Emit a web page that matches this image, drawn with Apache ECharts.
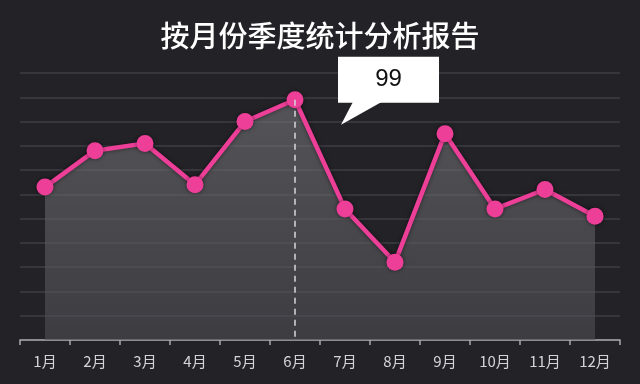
<!DOCTYPE html>
<html><head><meta charset="utf-8">
<script src="https://cdn.jsdelivr.net/npm/echarts@6/dist/echarts.min.js"></script>
<style>html,body{margin:0;padding:0;background:#232227;}#c{width:640px;height:384px;}</style>
</head><body><div id="c"></div>
<script>
var titleText = '按月份季度统计分析报告';
var categories = ['1月','2月','3月','4月','5月','6月','7月','8月','9月','10月','11月','12月'];
var values = [63, 78, 81, 64, 90, 99, 54, 32, 85, 54, 62, 51];
var highlightIndex = 5;

var chart = echarts.init(document.getElementById('c'), null, {renderer:'canvas'});
var option = {
  backgroundColor: '#232227',
  animation: false,
  title: {
    text: titleText, left: 'center', top: 16,
    textStyle: {color:'#ffffff', fontSize: 29, fontWeight: 500, fontFamily: 'Noto Sans CJK SC'}
  },
  grid: {left: 20, right: 20, top: 73, bottom: 44},
  xAxis: {
    type: 'category', data: categories, boundaryGap: true,
    axisLine: {lineStyle: {color: '#a9a9ad', width: 1.5}},
    axisTick: {show: true, length: 5, inside: false, lineStyle: {color: '#a9a9ad', width: 1.5}},
    axisLabel: {color: '#d4d4d8', fontSize: 15, margin: 14, fontFamily: 'Noto Sans CJK SC'},
    splitLine: {show: false}
  },
  yAxis: {
    type: 'value', min: 0, max: 110, interval: 10,
    axisLabel: {show: false}, axisLine: {show: false}, axisTick: {show: false},
    splitLine: {lineStyle: {color: '#3f3e45', width: 1.5}}
  },
  series: [{
    type: 'line', data: values, symbol: 'circle', symbolSize: 17,
    lineStyle: {color: '#ee3f98', width: 4.5, shadowColor: 'rgba(0,0,0,0.5)', shadowBlur: 4},
    itemStyle: {color: '#ee3f98', shadowColor: 'rgba(0,0,0,0.5)', shadowBlur: 4},
    areaStyle: {
      color: new echarts.graphic.LinearGradient(0,0,0,1,[
        {offset:0, color:'rgba(118,118,122,0.85)'},
        {offset:1, color:'rgba(78,78,84,0.85)'}
      ])
    },
    markLine: {
      silent: true, symbol: 'none', label: {show:false},
      lineStyle: {color: '#d8d8dc', type: [6,5], width: 1.5},
      data: [[{coord: [categories[highlightIndex], values[highlightIndex]]}, {coord: [categories[highlightIndex], 0]}]]
    },
    z: 3
  }]
};
chart.setOption(option);

var p = chart.convertToPixel({seriesIndex:0}, [highlightIndex, values[highlightIndex]]);
var bx = p[0] + 43, by = p[1] - 43, bw = 101, bh = 46;
chart.setOption({
  graphic: [{
    type: 'group', z: 100,
    children: [
      {type: 'polygon', shape: {points: [[bx+15, by+bh-1], [bx+44, by+bh-1], [bx+3, by+bh+22]]}, style: {fill: '#ffffff'}},
      {type: 'rect', shape: {x: bx, y: by, width: bw, height: bh}, style: {fill: '#ffffff'}},
      {type: 'text', x: bx + bw/2, y: by + bh/2, style: {text: String(values[highlightIndex]), fill: '#111', fontSize: 24, fontFamily: 'Liberation Sans', align: 'center', verticalAlign: 'middle'}}
    ]
  }]
});
</script></body></html>
